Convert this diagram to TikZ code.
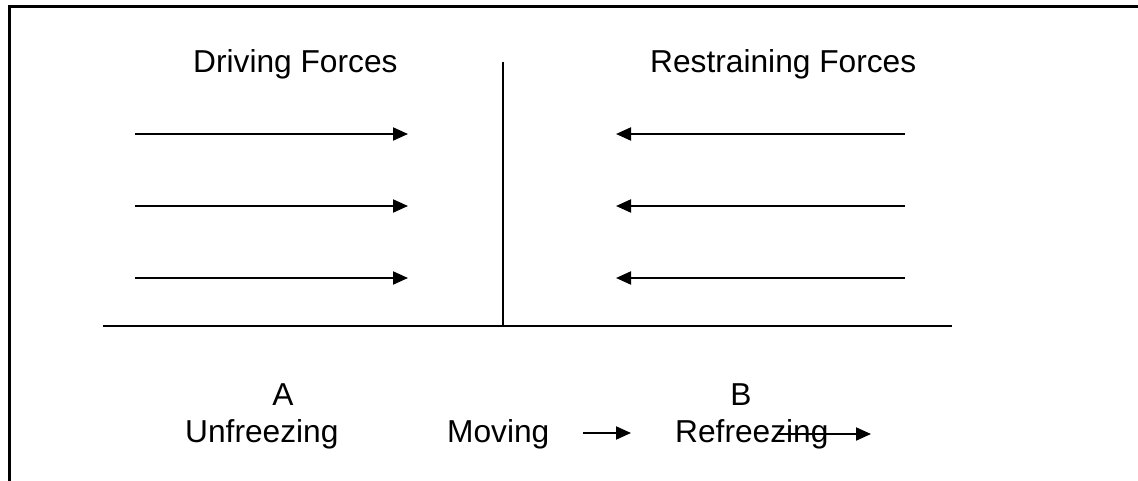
\documentclass[tikz,border=0pt]{standalone}
\usepackage{fontspec}
\setmainfont{Liberation Sans}
\usetikzlibrary{arrows.meta}
\begin{document}
\begin{tikzpicture}[x=1pt,y=-1pt,
  label/.style={inner sep=0pt,font=\fontsize{31.7}{36}\selectfont},
  rule/.style={line width=2pt},
  force/.style={line width=2pt,-{Triangle[length=15pt,width=13pt]}},
  frame/.style={line width=3pt}]
\useasboundingbox (0,0) rectangle (1138,481);
% outer frame (top and left edges)
\coordinate (ftr) at (1138,7);
\coordinate (ftl) at (9,7);
\coordinate (fbl) at (9,481);
\draw[frame] (ftr) -- (ftl) -- (fbl);
% headings
\node[label,anchor=base west] (drv) at (193,73) {Driving Forces};
\node[label,anchor=base west] (rst) at (650,73) {Restraining Forces};
% centre line and base line
\coordinate (ctop) at (503,62);
\coordinate (cbot) at (503,326);
\coordinate (bl) at (103,326);
\coordinate (br) at (952,326);
\draw[rule] (ctop) -- (cbot);
\draw[rule] (bl) -- (br);
% driving forces
\foreach \i/\y in {1/134,2/206,3/278}{
  \coordinate (d\i s) at (135,\y);
  \coordinate (d\i e) at (408,\y);
  \draw[force] (d\i s) -- (d\i e);
  \coordinate (r\i s) at (905,\y);
  \coordinate (r\i e) at (616,\y);
  \draw[force] (r\i s) -- (r\i e);
}
% stages
\node[label,anchor=base] (a) at (283,405) {A};
\node[label,anchor=base west] (unf) at (185,442) {Unfreezing};
\node[label,anchor=base west] (mov) at (447,442) {Moving};
\node[label,anchor=base] (b) at (741,405) {B};
\node[label,anchor=base west] (ref) at (675,442) {Refreezing};
\coordinate (m1) at (583,433);
\coordinate (m2) at (631,433);
\draw[force] (m1) -- (m2);
\coordinate (f1) at (777,434);
\coordinate (f2) at (871,434);
\draw[force] (f1) -- (f2);
\end{tikzpicture}
\end{document}
